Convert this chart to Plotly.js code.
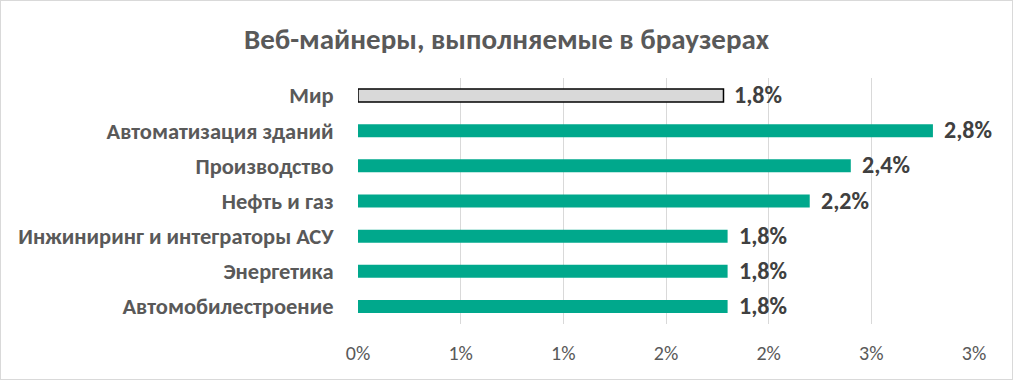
<!DOCTYPE html>
<html><head><meta charset="utf-8">
<script src="https://cdn.plot.ly/plotly-3.0.1.min.js"></script>
<style>
html,body{margin:0;padding:0;background:#fff;}
#chart{width:1013px;height:380px;box-sizing:border-box;border:1px solid #d9d9d9;}
</style></head>
<body><div id="chart"></div>
<script>
const categories = ["Мир","Автоматизация зданий","Производство","Нефть и газ","Инжиниринг и интеграторы АСУ","Энергетика","Автомобилестроение"];
const values = [1.78, 2.8, 2.4, 2.2, 1.8, 1.8, 1.8];
const labels = ["1,8%","2,8%","2,4%","2,2%","1,8%","1,8%","1,8%"];
const tickVals = [0, 0.5, 1, 1.5, 2, 2.5, 3];
const tickText = ["0%","1%","1%","2%","2%","3%","3%"];

const FONT = 'Carlito, Calibri, "Liberation Sans", Arial, sans-serif';
const fills = categories.map((c,i)=> i===0 ? '#d9d9d9' : '#00a88c');
const lineW = categories.map((c,i)=> i===0 ? 1.5 : 0);

const trace = {
  type:'bar', orientation:'h',
  x: values, y: categories,
  width: 0.37,
  marker:{color: fills, line:{color:'#000', width: lineW}},
  hoverinfo:'none'
};

const annotations = categories.map((c,i)=>({
  x: values[i], y: c, xref:'x', yref:'y',
  text: '<b>'+labels[i]+'</b>', showarrow:false,
  xanchor:'left', yanchor:'middle', xshift: 9, yshift: 1,
  font:{family:FONT, size:24, color:'#404040'}
}));

const layout = {
  width:1011, height:378,
  margin:{l:357, r:38, t:77, b:55},
  paper_bgcolor:'#fff', plot_bgcolor:'#fff',
  title:{text:'<b>Веб-майнеры, выполняемые в браузерах</b>', x:0.5, xanchor:'center', y:0.9, yanchor:'middle',
         font:{family:FONT, size:29, color:'#595959'}},
  xaxis:{range:[0,3], tickvals:tickVals, ticktext:tickText, showgrid:true, gridcolor:'#d9d9d9', gridwidth:1,
         zeroline:false, showline:false, ticks:'outside', ticklen:11, tickcolor:'rgba(0,0,0,0)',
         tickfont:{family:FONT, size:20, color:'#595959'}, fixedrange:true},
  yaxis:{categoryorder:'array', categoryarray:categories, autorange:'reversed', showgrid:false, zeroline:false,
         ticks:'outside', ticklen:19, tickcolor:'rgba(0,0,0,0)',
         tickfont:{family:FONT, size:22.5, color:'#595959', weight:'bold'}, fixedrange:true},
  annotations: annotations,
  showlegend:false, bargap:0.63
};
Plotly.newPlot('chart',[trace],layout,{displayModeBar:false, staticPlot:true});
</script></body></html>
